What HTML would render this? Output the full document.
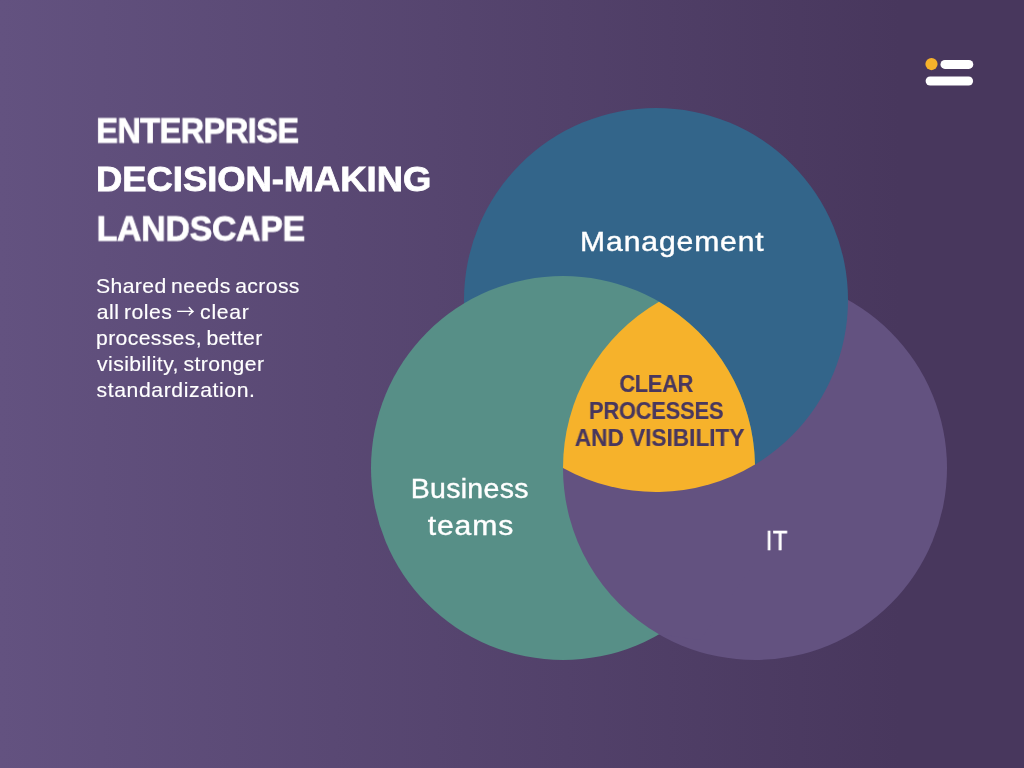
<!DOCTYPE html>
<html lang="en">
<head>
<meta charset="utf-8">
<title>Enterprise Decision-Making Landscape</title>
<style>
  html, body { margin: 0; padding: 0; }
  body {
    width: 1024px; height: 768px; overflow: hidden; position: relative;
    background: linear-gradient(90deg, #635280 0px, #48375d 900px, #48375d 1024px);
    font-family: "Liberation Sans", sans-serif;
    color: #fff;
  }
  .venn { position: absolute; left: 0; top: 0; width: 1024px; height: 768px; display: block; }
  h1.title { position: absolute; left: 0; top: 0; margin: 0; font-weight: 700; font-size: 34px; }
  p.lead { position: absolute; left: 0; top: 0; margin: 0; font-weight: 400; font-size: 19px; word-spacing: -1.6px; }
  h1.title > span, p.lead > span { position: absolute; left: 0; top: 0; white-space: nowrap; line-height: 1; transform-origin: 0 0; }
  .label, .core { position: absolute; left: 0; top: 0; white-space: nowrap; line-height: 1; transform-origin: 0 0; }
  .core { font-weight: 700; color: #48375e; }
  .arr { display: inline-block; position: relative; height: 0; line-height: 0; vertical-align: baseline; font-family: "Noto Sans CJK JP", "Liberation Sans", sans-serif; letter-spacing: 0; -webkit-text-stroke: 0px currentColor; text-align: center; font-size: 18.2px; width: 17.2px; top: -0.8px; left: -0.6px; transform: scaleX(0.94); }
  h1.title > span, p.lead > span, .label, .core { will-change: transform; }
</style>
</head>
<body>
  <svg class="venn" viewBox="0 0 1024 768" aria-hidden="true">
    <circle cx="755" cy="468" r="192" fill="#635280"/>
    <circle cx="656" cy="300" r="192" fill="#33658a"/>
    <circle cx="563" cy="468" r="192" fill="#578f87"/>
    <path d="M563 467.97 A192 192 0 0 0 659 634.28 L700 640 L757 560 L757 470 L754.97 464.53 Z" fill="#635280"/>
    <path d="M659 301.72 A192 192 0 0 1 754.97 464.53 A192 192 0 0 1 563 467.97 A192 192 0 0 1 659 301.72 Z" fill="#f6b22b"/>
    <circle cx="931.5" cy="64.05" r="6.1" fill="#f6b22b"/>
    <rect x="940.45" y="60" width="32.85" height="8.9" rx="4.45" fill="#fff"/>
    <rect x="925.6" y="76.4" width="47.5" height="9.1" rx="4.55" fill="#fff"/>
  </svg>

  <h1 class="title">
    <span id="t1" style="font-size:35px; letter-spacing:-0.63px; -webkit-text-stroke:0.8px currentColor; transform:translate(96.21px,112.5px) scaleX(0.93);">ENTERPRISE</span>
    <span id="t2" style="font-size:35px; letter-spacing:-0.04px; -webkit-text-stroke:0.8px currentColor; transform:translate(96.09px,161.4px) scaleX(1.04);">DECISION-MAKING</span>
    <span id="t3" style="font-size:35px; letter-spacing:-0.33px; -webkit-text-stroke:0.8px currentColor; transform:translate(96.53px,210.55px) scaleX(0.97);">LANDSCAPE</span>
  </h1>

  <p class="lead">
    <span id="p1" style="font-size:19.8px; letter-spacing:0.35px; -webkit-text-stroke:0.15px currentColor; transform:translate(96.08px,276.7px) scaleX(1.07);">Shared needs across</span>
    <span id="p2" style="font-size:19.8px; letter-spacing:0.46px; -webkit-text-stroke:0.15px currentColor; transform:translate(96.7px,302.7px) scaleX(1.07);">all roles <span class="arr">→</span> <span style="letter-spacing:0.68px">clear</span></span>
    <span id="p3" style="font-size:19.8px; letter-spacing:0.32px; -webkit-text-stroke:0.15px currentColor; transform:translate(96.11px,328.7px) scaleX(1.07);">processes, better</span>
    <span id="p4" style="font-size:19.8px; letter-spacing:0.39px; -webkit-text-stroke:0.15px currentColor; transform:translate(97.07px,354.7px) scaleX(1.07);">visibility, stronger</span>
    <span id="p5" style="font-size:19.8px; letter-spacing:0.56px; -webkit-text-stroke:0.15px currentColor; transform:translate(96.53px,380.7px) scaleX(1.07);">standardization.</span>
  </p>

  <div class="label" id="l1" style="font-size:26.9px; letter-spacing:0.77px; -webkit-text-stroke:0.4px currentColor; transform:translate(580.12px,229px) scaleX(1.12);">Management</div>
  <div class="label" id="l2" style="font-size:26.9px; letter-spacing:0.29px; -webkit-text-stroke:0.4px currentColor; transform:translate(410.65px,476px) scaleX(1.06);">Business</div>
  <div class="label" id="l3" style="font-size:26.9px; letter-spacing:0.81px; -webkit-text-stroke:0.4px currentColor; transform:translate(427.65px,513px) scaleX(1.12);">teams</div>
  <div class="label" id="l4" style="font-size:26.9px; letter-spacing:0.21px; -webkit-text-stroke:0.4px currentColor; transform:translate(765.75px,528px) scaleX(0.9);">IT</div>

  <div class="core" id="c1" style="font-size:23.6px; letter-spacing:-0.42px; -webkit-text-stroke:0.15px currentColor; transform:translate(619.36px,373px) scaleX(0.93);">CLEAR</div>
  <div class="core" id="c2" style="font-size:23.6px; letter-spacing:-0.27px; -webkit-text-stroke:0.15px currentColor; transform:translate(588.93px,400px) scaleX(0.93);">PROCESSES</div>
  <div class="core" id="c3" style="font-size:23.6px; letter-spacing:-0.02px; -webkit-text-stroke:0.15px currentColor; transform:translate(574.81px,427px) scaleX(0.96);">AND VISIBILITY</div>
</body>
</html>
